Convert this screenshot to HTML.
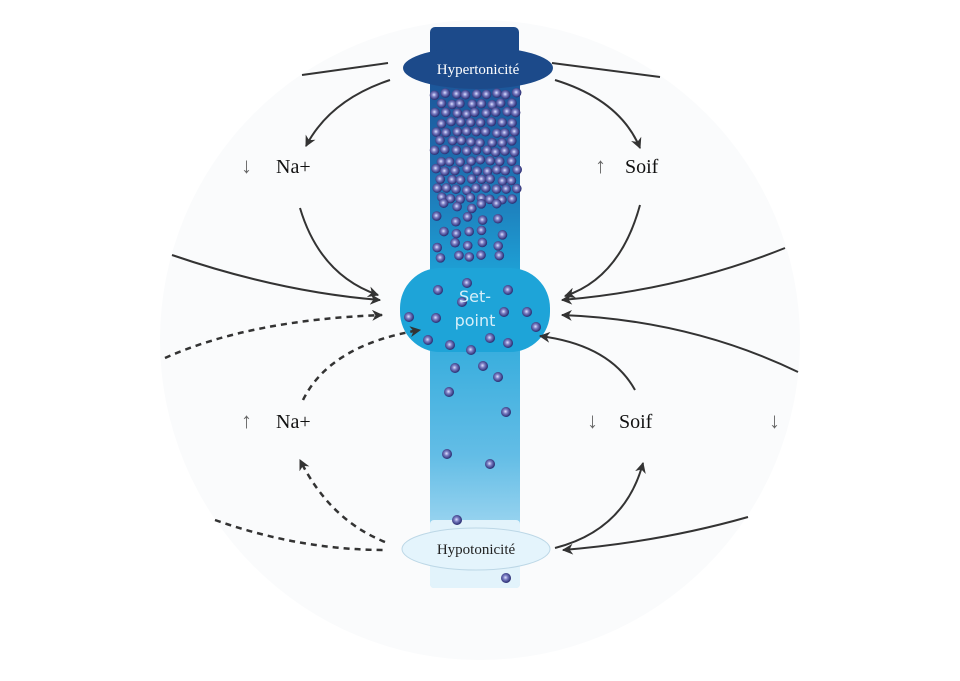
<!DOCTYPE html>
<html><head><meta charset="utf-8"><style>
html,body{margin:0;padding:0;background:#fff;width:960px;height:681px;overflow:hidden}
svg{display:block}
text{font-family:"Liberation Serif",serif}
</style></head><body>
<svg id="s" width="960" height="681" viewBox="0 0 960 681" xmlns="http://www.w3.org/2000/svg">
<defs>
<linearGradient id="col" x1="0" y1="0" x2="0" y2="1">
<stop offset="0" stop-color="#1c4f93"/>
<stop offset="0.2" stop-color="#1e6fb0"/>
<stop offset="0.42" stop-color="#1ea4d8"/>
<stop offset="0.75" stop-color="#63bde6"/>
<stop offset="1" stop-color="#c9e8f7"/>
</linearGradient>
<radialGradient id="dot" cx="0.45" cy="0.45" r="0.55">
<stop offset="0" stop-color="#dfe2ff"/>
<stop offset="0.4" stop-color="#7a7ec4"/>
<stop offset="1" stop-color="#26296e"/>
</radialGradient>
<marker id="ah" viewBox="0 0 10 10" refX="9" refY="5" markerWidth="11" markerHeight="11" orient="auto" markerUnits="userSpaceOnUse">
<path d="M0,0 L10,5 L0,10 L3,5 z" fill="#333"/>
</marker>
</defs>
<circle cx="480" cy="340" r="320" fill="#fafbfc"/>
<rect x="430" y="60" width="90" height="528" rx="4" fill="url(#col)"/>
<rect x="430" y="27" width="89" height="40" rx="5" fill="#1c4a8a"/>
<ellipse cx="478" cy="68" rx="75" ry="21" fill="#1c4a8a"/>
<text x="478" y="74" font-size="15" fill="#fff" text-anchor="middle">Hypertonicité</text>
<rect x="400" y="268" width="150" height="84" rx="40" fill="#1ea4d8"/>
<rect x="430" y="520" width="90" height="68" rx="4" fill="#e2f3fb"/>
<ellipse cx="476" cy="549" rx="74" ry="21" fill="#e4f4fc" stroke="#bcd7e6" stroke-width="1"/>
<text x="476" y="554" font-size="15" fill="#222" text-anchor="middle">Hypotonicité</text>
<g id="dots"></g>
<text x="475" y="302" font-size="16" fill="#d6eef9" text-anchor="middle" style="font-family:'DejaVu Sans',sans-serif">Set-</text>
<text x="475" y="326" font-size="16" fill="#d6eef9" text-anchor="middle" style="font-family:'DejaVu Sans',sans-serif">point</text>
<g fill="none" stroke="#333" stroke-width="2">
<path d="M388,63 L302,75"/>
<path d="M390,80 Q330,100 306,146" marker-end="url(#ah)"/>
<path d="M300,208 Q320,275 378,295" marker-end="url(#ah)"/>
<path d="M172,255 Q280,292 380,300" marker-end="url(#ah)"/>
<path d="M552,63 L660,77"/>
<path d="M555,80 Q620,100 640,148" marker-end="url(#ah)"/>
<path d="M640,205 Q620,278 565,296" marker-end="url(#ah)"/>
<path d="M785,248 Q680,290 562,300" marker-end="url(#ah)"/>
<path d="M798,372 Q690,320 562,315" marker-end="url(#ah)"/>
<path d="M635,390 Q610,345 540,336" marker-end="url(#ah)"/>
<path d="M555,548 Q625,530 643,463" marker-end="url(#ah)"/>
<path d="M748,517 Q660,542 563,550" marker-end="url(#ah)"/>
</g>
<g fill="none" stroke="#333" stroke-width="2.5" stroke-dasharray="6,5">
<path d="M165,358 Q250,320 382,315" marker-end="url(#ah)"/>
<path d="M303,400 Q330,345 420,330" marker-end="url(#ah)"/>
<path d="M385,542 Q330,520 300,460" marker-end="url(#ah)"/>
<path d="M215,520 Q300,550 385,550"/>
</g>
<g font-size="20" fill="#111">
<text x="241" y="173" fill="#666" font-size="22">↓</text><text x="276" y="173">Na+</text>
<text x="595" y="173" fill="#666" font-size="22">↑</text><text x="625" y="173">Soif</text>
<text x="241" y="428" fill="#666" font-size="22">↑</text><text x="276" y="428">Na+</text>
<text x="587" y="428" fill="#666" font-size="22">↓</text><text x="619" y="428">Soif</text>
<text x="769" y="428" fill="#666" font-size="22">↓</text>
</g>
</svg>
<script>
(function(){
var g=document.getElementById('dots'),ns='http://www.w3.org/2000/svg';
var seed=7;function r(){seed=(seed*16807)%2147483647;return seed/2147483647;}
function add(x,y,rr){var c=document.createElementNS(ns,'circle');c.setAttribute('cx',x);c.setAttribute('cy',y);c.setAttribute('r',rr||5);c.setAttribute('fill','url(#dot)');g.appendChild(c);}
for(var y=94;y<200;y+=9.5){var off=(Math.round(y/9.5)%2)*5;for(var x=436+off;x<518;x+=10){add(x+(r()-0.5)*3,y+(r()-0.5)*3,4.8);}}
for(var y=206;y<262;y+=13){for(var x=440;x<515;x+=15){add(x+(r()-0.5)*8,y+(r()-0.5)*6,4.8);}}
var pts=[[438,290],[436,318],[409,317],[508,290],[504,312],[527,312],[536,327],[428,340],[450,345],[471,350],[490,338],[508,343],[455,368],[483,366],[498,377],[449,392],[506,412],[447,454],[490,464],[457,520],[506,578],[467,283],[462,302]];
pts.forEach(function(p){add(p[0],p[1],5);});
})();
</script>
</body></html>
